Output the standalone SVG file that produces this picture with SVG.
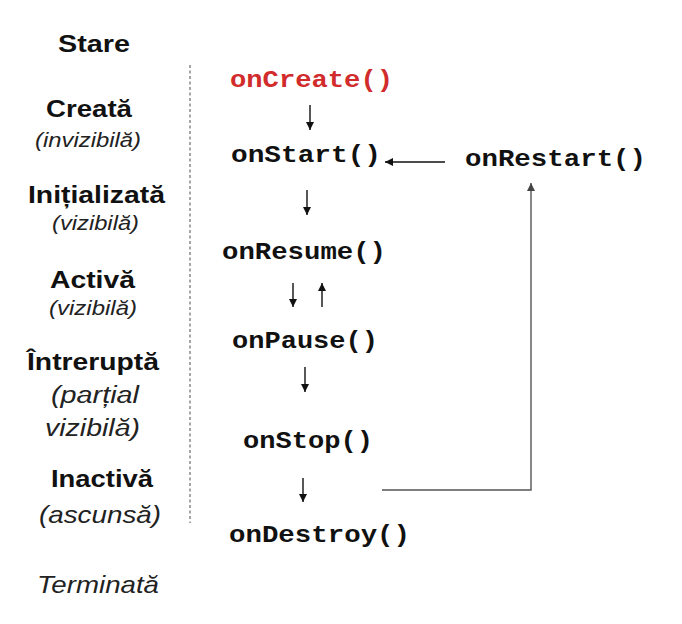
<svg xmlns="http://www.w3.org/2000/svg" width="682" height="624" viewBox="0 0 682 624">
<defs>
<style>
.st{font-family:"Liberation Sans",Arial,sans-serif;font-weight:bold;fill:#111;}
.it{font-family:"Liberation Sans",Arial,sans-serif;font-style:italic;fill:#222;}
.fn{font-family:"Liberation Mono","Courier New",monospace;font-weight:bold;font-size:24px;fill:#111;}
.red{fill:#d12b2b;}
.arr{stroke:#111;stroke-width:1.4;fill:none;marker-end:url(#ah);}
.gr{stroke:#555;stroke-width:1.4;fill:none;}
</style>
<marker id="ah" markerUnits="userSpaceOnUse" markerWidth="9" markerHeight="9" refX="8" refY="4" orient="auto">
<path d="M0,0 L8,4 L0,8 z" fill="#111"/>
</marker>
<marker id="ahg" markerUnits="userSpaceOnUse" markerWidth="9" markerHeight="9" refX="8" refY="4" orient="auto">
<path d="M0,0 L8,4 L0,8 z" fill="#444"/>
</marker>
</defs>
<rect width="682" height="624" fill="#fff"/>

<g id="states">
<text class="st" x="58" y="52" font-size="23" textLength="72" lengthAdjust="spacingAndGlyphs">Stare</text>
<text class="st" x="46" y="117" font-size="23" textLength="86" lengthAdjust="spacingAndGlyphs">Creată</text>
<text class="it" x="35" y="147" font-size="21" textLength="106" lengthAdjust="spacingAndGlyphs">(invizibilă)</text>
<text class="st" x="28" y="203" font-size="23" textLength="137" lengthAdjust="spacingAndGlyphs">Inițializată</text>
<text class="it" x="52" y="230" font-size="21" textLength="87" lengthAdjust="spacingAndGlyphs">(vizibilă)</text>
<text class="st" x="50" y="288" font-size="23" textLength="85" lengthAdjust="spacingAndGlyphs">Activă</text>
<text class="it" x="49" y="315" font-size="21" textLength="88" lengthAdjust="spacingAndGlyphs">(vizibilă)</text>
<text class="st" x="27" y="370" font-size="23" textLength="132" lengthAdjust="spacingAndGlyphs">Întreruptă</text>
<text class="it" x="51" y="403" font-size="23" textLength="88" lengthAdjust="spacingAndGlyphs">(parțial</text>
<text class="it" x="45" y="436" font-size="23" textLength="95" lengthAdjust="spacingAndGlyphs">vizibilă)</text>
<text class="st" x="51" y="487" font-size="23" textLength="102" lengthAdjust="spacingAndGlyphs">Inactivă</text>
<text class="it" x="39" y="523" font-size="24" textLength="122" lengthAdjust="spacingAndGlyphs">(ascunsă)</text>
<text class="it" x="37" y="593" font-size="24" textLength="122" lengthAdjust="spacingAndGlyphs">Terminată</text>
</g>

<line x1="190" y1="65" x2="190" y2="523" stroke="#777" stroke-width="1.3" stroke-dasharray="3,2.5"/>

<g id="onCreate"><text class="fn red" x="230" y="87" textLength="163" lengthAdjust="spacingAndGlyphs">onCreate()</text></g>
<g id="onStart"><text class="fn" x="231" y="162" textLength="150" lengthAdjust="spacingAndGlyphs">onStart()</text></g>
<g id="onRestart"><text class="fn" x="465" y="166" textLength="181" lengthAdjust="spacingAndGlyphs">onRestart()</text></g>
<g id="onResume"><text class="fn" x="222" y="259" textLength="164" lengthAdjust="spacingAndGlyphs">onResume()</text></g>
<g id="onPause"><text class="fn" x="232" y="348" textLength="146" lengthAdjust="spacingAndGlyphs">onPause()</text></g>
<g id="onStop"><text class="fn" x="243" y="448" textLength="130" lengthAdjust="spacingAndGlyphs">onStop()</text></g>
<g id="onDestroy"><text class="fn" x="229" y="542" textLength="181" lengthAdjust="spacingAndGlyphs">onDestroy()</text></g>

<g id="connectors">
<line class="arr" x1="310" y1="105" x2="310" y2="130"/>
<line class="arr" x1="307" y1="190" x2="307" y2="215"/>
<line class="arr" x1="293" y1="283" x2="293" y2="307"/>
<line class="arr" x1="322" y1="307" x2="322" y2="283"/>
<line class="arr" x1="305" y1="367" x2="305" y2="392"/>
<line class="arr" x1="303" y1="478" x2="303" y2="502"/>
<line class="arr" x1="445" y1="162" x2="385" y2="162"/>
<polyline class="gr" points="382,490 531,490 531,183" marker-end="url(#ahg)"/>
</g>
</svg>
